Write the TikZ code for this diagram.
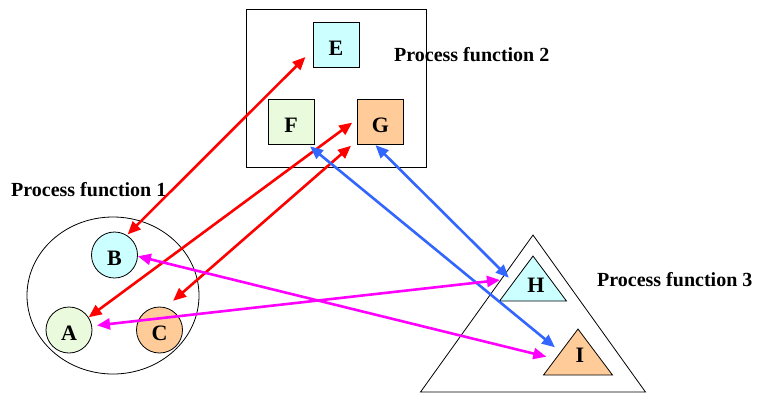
\documentclass[tikz,border=0pt]{standalone}
\usepackage{fontspec}
\setmainfont{Liberation Serif}
\usetikzlibrary{positioning, arrows.meta, shapes.geometric, calc}
\definecolor{cyanfill}{HTML}{CCFFFF}
\definecolor{greenfill}{HTML}{EAFADC}
\definecolor{orangefill}{HTML}{FFCC99}
\definecolor{linkred}{HTML}{FF0000}
\definecolor{linkblue}{HTML}{3366FF}
\definecolor{linkpink}{HTML}{FF00FF}

\begin{document}
\begin{tikzpicture}[
  x=1pt, y=-1pt,
  frameBox/.style={draw, line width=1pt, minimum width=180pt, minimum height=158pt, inner sep=0pt},
  itemBox/.style={draw, line width=0.9pt, minimum width=46pt, minimum height=45pt, inner sep=0pt, text height=22pt, text depth=0pt, font=\fontsize{22}{24}\selectfont\bfseries},
  itemCircle/.style={circle, draw, line width=0.8pt, minimum size=46pt, inner sep=0pt, text height=21pt, text depth=0pt, font=\fontsize{22}{24}\selectfont\bfseries},
  groupShape/.style={draw, line width=0.8pt, inner sep=0pt},
  itemTri/.style={isosceles triangle, shape border rotate=90, isosceles triangle stretches, draw, line width=0.8pt, inner sep=0pt, anchor=apex},
  itemLetter/.style={inner sep=0pt, font=\fontsize{22}{24}\selectfont\bfseries},
  groupLabel/.style={anchor=base west, inner sep=0pt, font=\fontsize{20}{22}\selectfont\bfseries},
  link/.style={{Triangle[length=13pt,width=11pt]}-{Triangle[length=13pt,width=11pt]}, line width=2.6pt}
]
\useasboundingbox (0,0) rectangle (757,392);

% Process function 2
\node[frameBox] (pf2) at (336,88) {};
\node[itemBox, fill=cyanfill] (E) at (336,44.5) {E};
\node[itemBox, fill=greenfill] (F) at (291,121.5) {F};
\node[itemBox, fill=orangefill] (G) at (380.5,121.5) {G};
\node[groupLabel] (pf2Label) at (394,61) {Process function 2};

% Process function 1
\node[groupShape, ellipse, minimum width=172pt, minimum height=157pt] (pf1) at (113,295.5) {};
\node[itemCircle, fill=cyanfill] (B) at (114.5,255) {B};
\node[itemCircle, fill=greenfill] (A) at (69,330) {A};
\node[itemCircle, fill=orangefill] (C) at (159.5,330) {C};
\node[groupLabel] (pf1Label) at (11,196) {Process function 1};

% Process function 3
\node[itemTri, minimum width=225pt, minimum height=157pt] (pf3) at (533,234) {};
\node[itemTri, fill=cyanfill, minimum width=67pt, minimum height=45pt] (triH) at (533,255) {};
\node[itemTri, fill=orangefill, minimum width=69pt, minimum height=46pt] (triI) at (578,328) {};
\node[itemLetter] (H) at (536,285) {H};
\node[itemLetter] (I) at (580,355) {I};
\node[groupLabel] (pf3Label) at (597,286) {Process function 3};

% Links
\draw[link, linkred, shorten <=1pt, shorten >=10pt] (B.58) -- (E.193);
\draw[link, linkred, shorten >=6pt] (A.33) -- (G.174);
\draw[link, linkred, shorten <=10pt, shorten >=8pt] (C.75) -- (G.219);
\draw[link, linkblue, shorten <=3pt, shorten >=7pt] (F.-54) -- (triI.left side);
\draw[link, linkblue, shorten <=1pt, shorten >=6pt] (G.-104) -- ($(triH.apex)!0.58!(triH.left corner)$);
\draw[link, linkpink, shorten >=9pt] (B.-3) -- ($(triI.apex)!0.65!(triI.left corner)$);
\draw[link, linkpink, shorten <=5pt, shorten >=16pt] (A.10) -- (triH.left side);

\end{tikzpicture}
\end{document}
